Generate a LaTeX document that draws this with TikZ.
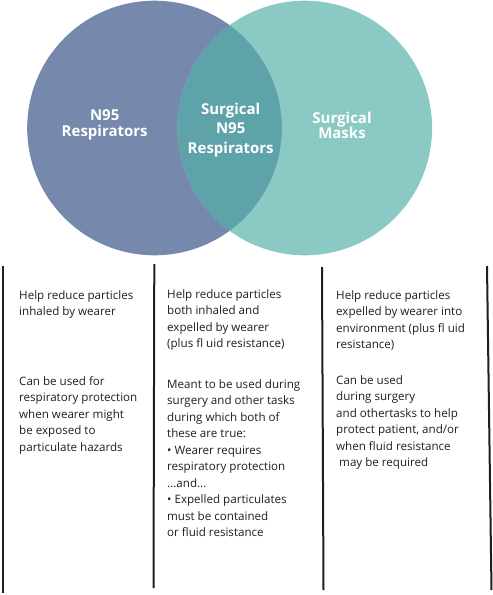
\documentclass[tikz,border=0pt]{standalone}
\usepackage{fontspec}
\setmainfont{Open Sans}
\definecolor{nblue}{RGB}{118,137,173}
\definecolor{mteal}{RGB}{139,202,196}
\definecolor{lens}{RGB}{94,163,170}
\definecolor{ink}{RGB}{30,30,30}
\begin{document}
\begin{tikzpicture}[x=1pt,y=-1pt,
  title/.style={text=white, inner sep=0, anchor=base, font=\bfseries\fontsize{15}{15}\selectfont},
  body/.style={anchor=base west, inner sep=0, text=ink, font=\fontsize{11.6}{16.5}\selectfont},
  rulebar/.style={line width=2pt, draw=ink}]
\useasboundingbox (0,0) rectangle (493,595);
% circles
\fill[nblue] (154.5,128) circle[radius=127.3];
\fill[mteal] (304.8,128) circle[radius=127.3];
\begin{scope}
  \clip (154.5,128) circle[radius=127.3];
  \fill[lens] (304.8,128) circle[radius=127.3];
\end{scope}
% titles
\node[title] (tl) at (104.7,120.7) {\begin{tabular}[t]{@{}c@{}}N95\\Respirators\end{tabular}};
\node[title,font=\bfseries\fontsize{15}{19.5}\selectfont] (tc) at (230.7,114) {\begin{tabular}[t]{@{}c@{}}Surgical\\N95\\Respirators\end{tabular}};
\node[title] (tr) at (342,123) {\begin{tabular}[t]{@{}c@{}}Surgical\\Masks\end{tabular}};
% separators
\draw[rulebar] (3,266) -- (3,593);
\draw[rulebar] (154.3,264) -- (153.5,588);
\draw[rulebar] (322,267) -- (323.5,590);
\draw[rulebar] (487,266) -- (491.5,590);
% left column
\node[body] (l1) at (19,299) {\begin{tabular}[t]{@{}l@{}}Help reduce particles\\inhaled by wearer\end{tabular}};
\node[body] (l2) at (19,385) {\begin{tabular}[t]{@{}l@{}}Can be used for\\respiratory protection\\when wearer might\\be exposed to\\particulate hazards\end{tabular}};
% middle column
\node[body] (m1) at (167,298) {\begin{tabular}[t]{@{}l@{}}Help reduce particles\\both inhaled and\\expelled by wearer\\(plus fl uid resistance)\end{tabular}};
\node[body] (m2) at (167,388) {\begin{tabular}[t]{@{}l@{}}Meant to be used during\\surgery and other tasks\\during which both of\\these are true:\\\textbullet\ Wearer requires\\respiratory protection\\...and...\\\textbullet\ Expelled particulates\\must be contained\\or fluid resistance\end{tabular}};
% right column
\node[body] (r1) at (336,299) {\begin{tabular}[t]{@{}l@{}}Help reduce particles\\expelled by wearer into\\environment (plus fl uid\\resistance)\end{tabular}};
\node[body] (r2) at (336,384) {\begin{tabular}[t]{@{}l@{}}Can be used\\during surgery\\and othertasks to help\\protect patient, and/or\\when fluid resistance\\\ may be required\end{tabular}};
\end{tikzpicture}
\end{document}
